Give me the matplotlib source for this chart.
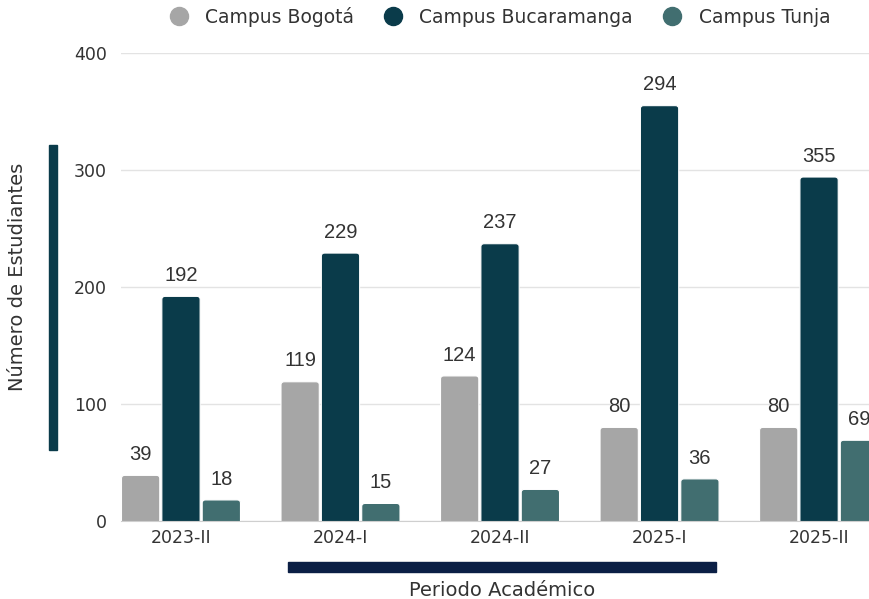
import matplotlib.pyplot as plt
import numpy as np
from matplotlib.patches import FancyBboxPatch, Rectangle

# data
periodos = ['2023-II', '2024-I', '2024-II', '2025-I', '2025-II']
bogota = [39, 119, 124, 80, 80]
bucaramanga = [192, 229, 237, 355, 294]
tunja = [18, 15, 27, 36, 69]
# labels as printed on the original chart (2025 Bucaramanga labels are swapped there)
bogota_lbl = ['39', '119', '124', '80', '80']
bucaramanga_lbl = ['192', '229', '237', '294', '355']
tunja_lbl = ['18', '15', '27', '36', '69']

c_bog = '#a6a6a6'
c_buc = '#0a3b4a'
c_tun = '#416e70'
txt = '#333333'

fig = plt.figure(figsize=(8.69, 5.99), dpi=100)
ax = fig.add_axes([121 / 869, 78 / 599, 748 / 869, 468 / 599])

x = np.arange(len(periodos))
w = 0.24
off = 0.253

series = [
    ('Campus Bogotá', bogota, bogota_lbl, c_bog, -off),
    ('Campus Bucaramanga', bucaramanga, bucaramanga_lbl, c_buc, 0),
    ('Campus Tunja', tunja, tunja_lbl, c_tun, off),
]

for name, vals, lbls, col, dx in series:
    bars = ax.bar(x + dx, vals, w, color=col)
    for rect, lbl in zip(bars, lbls):
        bx, bw, bh = rect.get_x(), rect.get_width(), rect.get_height()
        rect.remove()
        # rounded top corners
        p = FancyBboxPatch((bx, -10), bw, bh + 10,
                           boxstyle='round,pad=0,rounding_size=0.02',
                           mutation_aspect=135, facecolor=col,
                           edgecolor='white', linewidth=0.8, zorder=2)
        ax.add_patch(p)
        ax.annotate(lbl, (bx + bw / 2, bh), xytext=(0, 15),
                    textcoords='offset points', ha='center', va='center',
                    fontsize=14.5, family='Liberation Sans', color=txt,
                    annotation_clip=False)
    # legend handle
    ax.plot([], [], 'o', color=col, markersize=13, label=name)

ax.set_xlim(-0.376, 4.313)
ax.set_ylim(0, 400)
ax.set_yticks([0, 100, 200, 300, 400])
ax.set_xticks(x)
ax.set_xticklabels(periodos)

ax.grid(axis='y', color='#e3e3e3', linewidth=1, zorder=0)
ax.set_axisbelow(True)
for s in ['top', 'right', 'left']:
    ax.spines[s].set_visible(False)
ax.spines['bottom'].set_color('#cfcfcf')
ax.tick_params(axis='both', length=0, labelsize=12.5, labelcolor=txt)
ax.tick_params(axis='y', pad=10)
ax.tick_params(axis='x', pad=6)

ax.legend(loc='lower center', bbox_to_anchor=(0.5, 1.0), ncol=3,
          frameon=False, fontsize=13.5, handletextpad=0.4,
          columnspacing=1.1, labelcolor=txt, borderaxespad=1.0)

# axis titles and decorative bars
fig.text(18 / 869, 0.537, 'Número de Estudiantes', rotation=90,
         ha='center', va='center', fontsize=14, color=txt)
fig.add_artist(Rectangle((49 / 869, 149 / 599), 8 / 869, 305 / 599,
                         transform=fig.transFigure, color=c_buc))
fig.text(502 / 869, 8 / 599, 'Periodo Académico', ha='center',
         va='center', fontsize=14, color=txt)
fig.add_artist(Rectangle((288 / 869, 27 / 599), 428 / 869, 10 / 599,
                         transform=fig.transFigure, color='#0b1f45'))

fig.savefig('out.png', dpi=100)
